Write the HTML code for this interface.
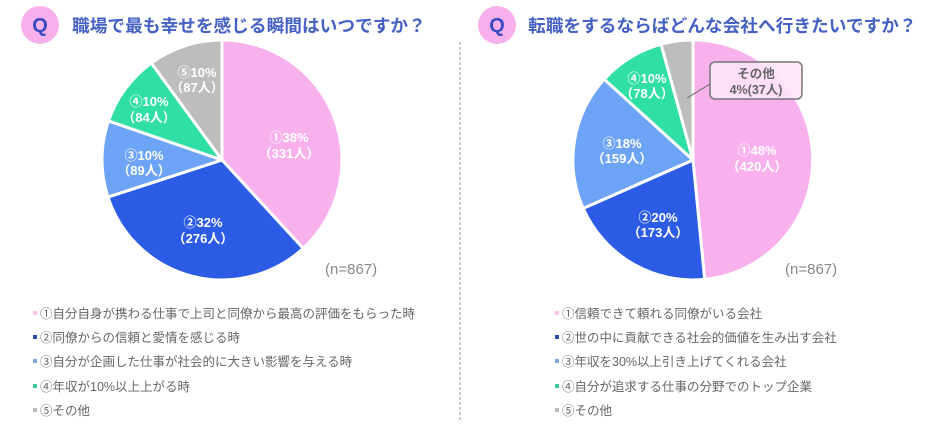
<!DOCTYPE html>
<html><head><meta charset="utf-8"><style>
html,body{margin:0;padding:0;background:#fff;}
svg{display:block;}
text{font-family:"Liberation Sans","Noto Sans CJK JP",sans-serif;}
</style></head><body>
<svg width="940" height="425" viewBox="0 0 940 425" xmlns="http://www.w3.org/2000/svg">
<!-- titles -->
<circle cx="40" cy="25" r="19" fill="#f7b0ec"/>
<text x="40" y="32" text-anchor="middle" font-size="20" font-weight="bold" fill="#3a4bbf" font-family="Liberation Serif,serif">Q</text>
<text x="72" y="32" font-size="17.7" font-weight="bold" fill="#4561c4">職場で最も幸せを感じる瞬間はいつですか？</text>
<circle cx="497" cy="25" r="19" fill="#f7b0ec"/>
<text x="497" y="32" text-anchor="middle" font-size="20" font-weight="bold" fill="#3a4bbf" font-family="Liberation Serif,serif">Q</text>
<text x="528" y="32" font-size="17.7" font-weight="bold" fill="#4561c4">転職をするならばどんな会社へ行きたいですか？</text>
<line x1="460" y1="42" x2="460" y2="422" stroke="#999" stroke-width="1" stroke-dasharray="3,2"/>

<!-- left pie -->
<g stroke="#fff" stroke-width="3" stroke-linejoin="round">
<path d="M222,160 L222,40 A120,120 0 0 1 303.2,248.3 Z" fill="#f9b1ee"/>
<path d="M222,160 L303.2,248.3 A120,120 0 0 1 107.9,197.1 Z" fill="#2c5be6"/>
<path d="M222,160 L107.9,197.1 A120,120 0 0 1 108.5,120.9 Z" fill="#6ea4f7"/>
<path d="M222,160 L108.5,120.9 A120,120 0 0 1 151.3,63.0 Z" fill="#2fdfa6"/>
<path d="M222,160 L151.3,63.0 A120,120 0 0 1 222,40 Z" fill="#bdbdbd"/>
</g>
<g font-size="13" font-weight="bold" fill="#fff" text-anchor="middle">
<text x="289" y="142">①38%</text><text x="289" y="158">（331人）</text>
<text x="203" y="227">②32%</text><text x="203" y="243">（276人）</text>
<text x="144" y="160">③10%</text><text x="144" y="175">（89人）</text>
<text x="149" y="106">④10%</text><text x="149" y="122">（84人）</text>
<text x="197" y="77">⑤10%</text><text x="197" y="92">（87人）</text>
</g>
<text x="325" y="274" font-size="15" fill="#888">(n=867)</text>

<!-- right pie -->
<g stroke="#fff" stroke-width="3" stroke-linejoin="round">
<path d="M693,160 L693,40 A120,120 0 0 1 704.7,279.4 Z" fill="#f9b1ee"/>
<path d="M693,160 L704.7,279.4 A120,120 0 0 1 583.2,208.4 Z" fill="#2c5be6"/>
<path d="M693,160 L583.2,208.4 A120,120 0 0 1 604.2,79.2 Z" fill="#6ea4f7"/>
<path d="M693,160 L604.2,79.2 A120,120 0 0 1 661.1,44.3 Z" fill="#2fdfa6"/>
<path d="M693,160 L661.1,44.3 A120,120 0 0 1 693,40 Z" fill="#bdbdbd"/>
</g>
<g font-size="13" font-weight="bold" fill="#fff" text-anchor="middle">
<text x="757" y="155">①48%</text><text x="757" y="171">（420人）</text>
<text x="658" y="222">②20%</text><text x="658" y="237">（173人）</text>
<text x="622" y="148">③18%</text><text x="622" y="163">（159人）</text>
<text x="647" y="83">④10%</text><text x="647" y="98">（78人）</text>
</g>
<line x1="687" y1="98" x2="710" y2="84" stroke="#777" stroke-width="1.2"/>
<rect x="710" y="62" width="92" height="37" rx="5" fill="#fde4f8" fill-opacity="0.9" stroke="#777" stroke-width="1.5"/>
<g font-size="12.5" font-weight="bold" fill="#666" text-anchor="middle">
<text x="756" y="78">その他</text><text x="756" y="94">4%(37人)</text>
</g>
<text x="785" y="274" font-size="15" fill="#888">(n=867)</text>

<!-- legends -->
<g font-size="12.5" fill="#666">
<rect x="33" y="311" width="4" height="4" fill="#f4c4ea"/><text x="40" y="318">①自分自身が携わる仕事で上司と同僚から最高の評価をもらった時</text>
<rect x="33" y="335" width="4" height="4" fill="#2a4aa8"/><text x="40" y="342">②同僚からの信頼と愛情を感じる時</text>
<rect x="33" y="359" width="4" height="4" fill="#7da4e0"/><text x="40" y="366">③自分が企画した仕事が社会的に大きい影響を与える時</text>
<rect x="33" y="384" width="4" height="4" fill="#3fc99a"/><text x="40" y="391">④年収が10%以上上がる時</text>
<rect x="33" y="408" width="4" height="4" fill="#bbb"/><text x="40" y="415">⑤その他</text>

<rect x="555" y="311" width="4" height="4" fill="#f4c4ea"/><text x="562" y="318">①信頼できて頼れる同僚がいる会社</text>
<rect x="555" y="335" width="4" height="4" fill="#2a4aa8"/><text x="562" y="342">②世の中に貢献できる社会的価値を生み出す会社</text>
<rect x="555" y="359" width="4" height="4" fill="#7da4e0"/><text x="562" y="366">③年収を30%以上引き上げてくれる会社</text>
<rect x="555" y="384" width="4" height="4" fill="#3fc99a"/><text x="562" y="391">④自分が追求する仕事の分野でのトップ企業</text>
<rect x="555" y="408" width="4" height="4" fill="#bbb"/><text x="562" y="415">⑤その他</text>
</g>
</svg>
</body></html>
